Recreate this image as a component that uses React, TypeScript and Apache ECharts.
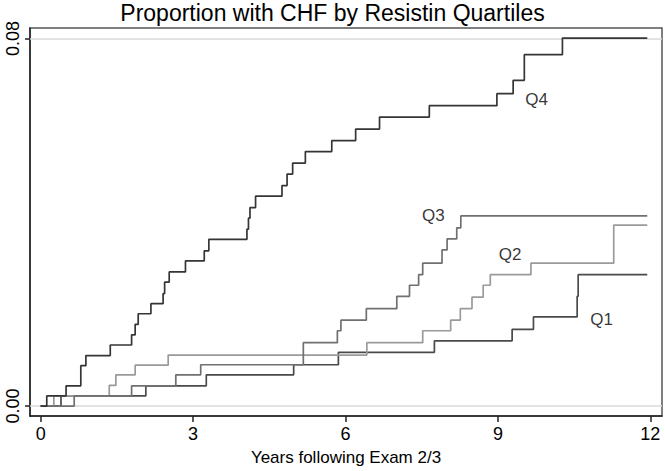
import React, { useEffect, useRef } from "react";
import * as echarts from "echarts";

const xTicks = [0, 3, 6, 9, 12];
const yTicks = [0, 0.08];

const q4Time = [0, 0.12, 0.5, 0.79, 0.89, 1.37, 1.79, 1.86, 1.92, 2.17, 2.41, 2.44, 2.53, 2.85, 3.22, 3.31, 4.06, 4.09, 4.12, 4.23, 4.75, 4.85, 4.96, 5.21, 5.73, 6.2, 6.67, 7.65, 8.98, 9.3, 9.52, 10.27, 11.94];
const q4Value = [0, 0.0022, 0.0044, 0.0088, 0.011, 0.0133, 0.0155, 0.0178, 0.0201, 0.0223, 0.0245, 0.027, 0.0292, 0.0316, 0.0338, 0.0363, 0.0385, 0.0409, 0.0432, 0.0457, 0.048, 0.0505, 0.0529, 0.0554, 0.0578, 0.0603, 0.0629, 0.0654, 0.068, 0.0709, 0.0765, 0.0801, 0.0801];

const q3Time = [0, 0.66, 1.79, 2.66, 3.15, 5.17, 5.84, 5.91, 6.41, 7.01, 7.26, 7.44, 7.52, 7.9, 8.0, 8.19, 8.27, 11.94];
const q3Value = [0, 0.0022, 0.0044, 0.0068, 0.009, 0.0138, 0.0164, 0.0187, 0.0212, 0.0239, 0.0263, 0.0286, 0.0311, 0.034, 0.0364, 0.0388, 0.0414, 0.0414];

const q2Time = [0, 0.26, 1.35, 1.48, 1.86, 2.51, 6.42, 7.52, 8.07, 8.26, 8.49, 8.71, 8.85, 9.65, 11.28, 11.94];
const q2Value = [0, 0.0022, 0.0045, 0.0068, 0.0089, 0.0111, 0.0138, 0.0164, 0.0187, 0.0212, 0.0237, 0.0263, 0.0286, 0.0311, 0.0394, 0.0394];

const q1Time = [0, 0.4, 2.07, 3.26, 4.98, 5.86, 7.75, 9.28, 9.7, 10.56, 10.58, 11.94];
const q1Value = [0, 0.0022, 0.0044, 0.0068, 0.009, 0.0117, 0.0142, 0.0167, 0.0194, 0.0239, 0.0286, 0.0286];

const labelNames = ["Q4", "Q3", "Q2", "Q1"];
const labelX = [9.76, 7.73, 9.24, 11.04];
const labelY = [0.0668, 0.0415, 0.0331, 0.0188];

const FONT = "'Liberation Sans', Arial, sans-serif";

const zip = (t: number[], v: number[]) => t.map((x, i) => [x, v[i]]);

export default function App() {
  const ref = useRef<HTMLDivElement>(null);
  useEffect(() => {
    if (!ref.current) return;
    const chart = echarts.init(ref.current, undefined, { renderer: "svg" });
    const stepSeries = (name: string, t: number[], v: number[], color: string, extra: any = {}) => ({
      name,
      type: "line",
      step: "end",
      data: zip(t, v),
      showSymbol: false,
      symbol: "none",
      lineStyle: { color, width: 1.7 },
      z: 3,
      ...extra,
    });
    chart.setOption({
      animation: false,
      textStyle: { fontFamily: FONT },
      title: {
        text: "Proportion with CHF by Resistin Quartiles",
        left: "center",
        top: 1,
        padding: 0,
        textStyle: { fontSize: 23, fontWeight: "normal", color: "#000", fontFamily: FONT },
      },
      grid: {
        left: 30,
        right: 3,
        top: 28,
        bottom: 52,
        show: true,
        borderColor: "#555",
        borderWidth: 1.5,
        backgroundColor: "#fff",
      },
      xAxis: {
        type: "value",
        min: -0.21,
        max: 12.23,
        axisLine: { show: true, onZero: false, lineStyle: { color: "#222", width: 1.5 } },
        axisTick: { show: true, customValues: xTicks, length: 6, lineStyle: { color: "#222", width: 1.5 } },
        axisLabel: { customValues: xTicks, fontSize: 18, color: "#000", margin: 9, fontFamily: FONT },
        splitLine: { show: false },
        name: "Years following Exam 2/3",
        nameLocation: "middle",
        nameGap: 33,
        nameTextStyle: { fontSize: 17, color: "#000", fontFamily: FONT },
      },
      yAxis: {
        type: "value",
        min: -0.00216,
        max: 0.0823,
        axisLine: { show: true, onZero: false, lineStyle: { color: "#222", width: 1.5 } },
        axisTick: { show: true, customValues: yTicks, length: 5, lineStyle: { color: "#222", width: 1.5 } },
        axisLabel: {
          customValues: yTicks,
          rotate: 90,
          fontSize: 18,
          color: "#000",
          margin: 8,
          fontFamily: FONT,
          formatter: (v: number) => v.toFixed(2),
        },
        splitLine: { show: false },
      },
      series: [
        stepSeries("Q1", q1Time, q1Value, "#4a4a4a"),
        stepSeries("Q2", q2Time, q2Value, "#9a9a9a"),
        stepSeries("Q3", q3Time, q3Value, "#707070"),
        stepSeries("Q4", q4Time, q4Value, "#353535", {
          markLine: {
            silent: true,
            symbol: "none",
            label: { show: false },
            lineStyle: { color: "#d8d8d8", width: 1.5, type: "solid" },
            data: yTicks.map((y) => ({ yAxis: y })),
            z: 1,
          },
        }),
        {
          name: "labels",
          type: "scatter",
          symbolSize: 1,
          itemStyle: { color: "rgba(0,0,0,0)" },
          data: labelNames.map((n, i) => [labelX[i], labelY[i], n]),
          label: {
            show: true,
            position: "inside",
            formatter: (p: any) => p.data[2],
            fontSize: 17,
            color: "#000",
            fontFamily: FONT,
          },
          z: 5,
        },
      ],
    });
    return () => chart.dispose();
  }, []);
  return <div ref={ref} style={{ width: 665, height: 471, position: "absolute", left: 0, top: 0 }} />;
}
